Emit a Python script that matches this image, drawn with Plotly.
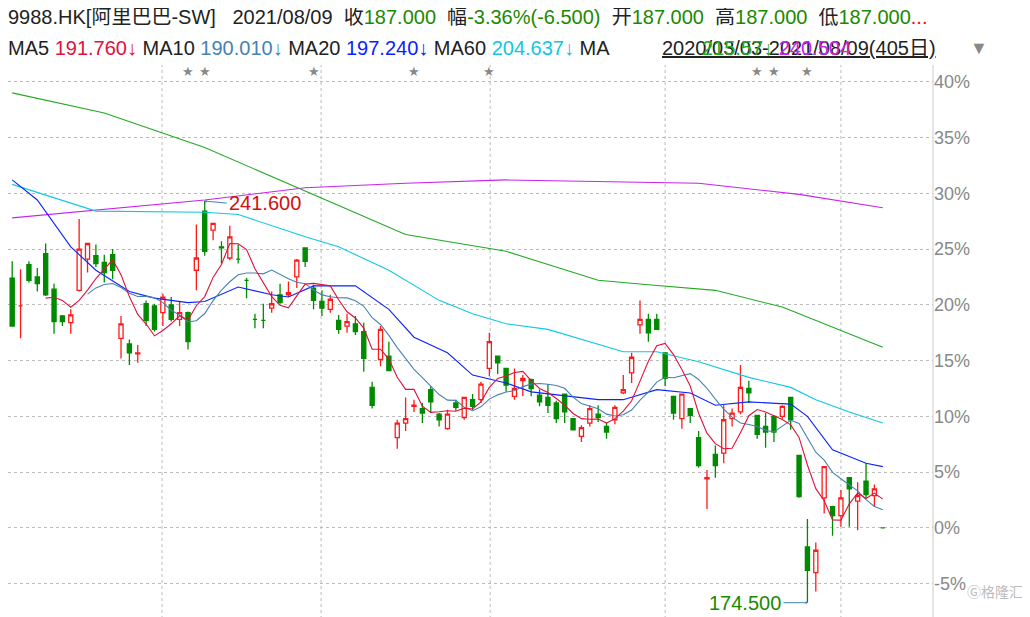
import plotly.graph_objects as go
import pandas as pd

# OHLC in % relative to last close (187.000)
opens = [22.4,19.9,23.6,22.5,24.6,21.4,19.0,18.4,21.3,24.1,24.4,23.8,24.5,17.0,16.5,15.6,20.1,19.9,19.3,20.0,
         18.7,19.3,23.1,28.4,26.7,25.2,24.2,24.1,22.2,18.7,18.6,19.7,20.9,20.9,22.5,25.1,21.5,20.3,19.6,18.6,
         18.1,18.3,17.6,12.6,15.1,15.4,8.1,9.4,10.9,10.7,12.4,10.2,8.9,11.2,9.9,11.5,11.5,14.3,15.4,14.3,
         11.8,13.2,13.3,11.9,11.7,11.2,12.0,9.8,8.2,9.4,10.2,9.1,9.7,12.1,13.9,18.2,18.7,18.7,15.7,11.8,
         9.8,10.7,8.1,4.4,6.6,6.7,9.8,10.4,12.5,10.1,9.1,10.0,10.0,11.7,6.5,-1.7,-4.0,2.7,1.9,1.1,
         4.5,2.4,4.2,2.9,0.0]
closes = [18.1,19.9,22.2,21.9,20.9,18.5,18.5,19.1,25.0,25.5,23.7,22.9,23.1,18.3,15.7,15.7,18.6,17.8,20.7,18.7,
          19.3,16.7,24.2,24.8,27.3,25.1,26.1,24.1,22.2,18.7,18.6,20.1,20.2,21.1,24.0,23.9,20.4,19.7,20.5,17.8,
          18.5,17.6,15.2,11.0,17.8,14.1,9.4,9.8,11.0,10.3,11.3,9.7,10.2,10.8,11.7,10.9,12.9,16.7,14.8,12.8,
          12.5,13.4,12.5,11.3,11.0,9.8,10.4,8.8,9.0,10.7,9.9,8.6,10.8,12.4,15.3,18.7,17.5,17.8,13.4,10.3,
          12.0,10.1,5.6,4.5,5.6,9.7,10.3,12.6,12.1,8.4,8.6,8.6,10.9,9.7,2.8,-3.8,-2.0,5.5,1.1,2.7,
          3.5,2.9,3.0,3.5,0.0]
highs = [23.9,23.2,23.9,23.3,25.5,21.9,19.1,19.6,27.7,25.5,25.4,24.5,25.0,19.0,16.9,16.4,20.4,20.1,21.0,20.7,
         20.3,19.4,27.2,29.3,27.3,25.7,27.1,25.4,22.4,19.2,20.1,21.2,21.9,22.1,24.1,25.1,21.8,21.3,20.9,19.1,
         19.2,19.0,18.4,13.1,18.1,16.7,9.7,11.7,11.5,11.2,12.7,10.3,10.6,11.5,11.7,12.0,13.1,17.5,15.4,14.3,
         14.3,13.7,13.4,12.4,12.9,11.4,12.0,9.8,9.2,11.0,11.0,9.4,11.0,13.7,15.7,20.4,19.2,19.2,15.7,11.8,
         12.0,10.7,8.7,5.2,7.4,11.0,10.7,14.6,13.2,10.1,10.3,10.1,11.0,11.7,6.5,0.8,-1.3,5.5,2.0,3.4,
         4.5,4.1,5.8,3.9,0.0]
lows = [18.1,17.0,22.0,21.2,20.8,17.4,18.1,17.4,21.2,22.9,23.4,22.0,22.3,15.2,14.6,14.8,18.1,17.6,18.1,18.5,
        18.1,16.0,21.3,24.4,25.8,23.7,24.0,23.7,20.6,17.9,17.9,19.3,20.1,20.7,21.5,23.4,19.6,19.0,19.3,17.4,
        17.5,17.3,14.0,10.7,14.5,14.1,7.1,8.7,10.4,9.4,10.3,9.1,8.8,10.5,9.7,10.6,11.2,13.6,13.8,12.2,
        11.5,11.8,11.8,10.9,10.3,9.4,9.4,8.8,7.7,9.1,9.5,8.0,9.3,12.0,13.0,17.4,16.7,17.8,12.7,9.7,
        8.9,9.4,5.4,1.7,4.5,5.8,9.1,10.2,11.2,8.0,7.2,7.7,9.8,8.8,2.7,-6.7,-5.7,1.3,-0.7,0.1,
        0.1,-0.2,2.7,1.9,0.0]

# read-off moving averages (index, %)
ma20_i = [0,3,7,10,14,17,21,23,27,31,33,36,41,45,48,52,55,59,62,70,73,77,81,84,88,93,95,98,102,104]
ma20_v = [31.2,29.4,25.2,23.1,21.2,20.6,20.2,20.3,21.6,20.9,20.7,21.7,21.7,19.6,17.1,15.7,13.7,13.0,12.2,11.5,
          11.5,12.4,12.1,11.0,11.3,11.1,10.0,7.0,5.8,5.5]
ma60_i = [0,10,23,27,35,39,45,51,55,59,64,73,77,82,88,93,96,100,104]
ma60_v = [30.8,28.4,28.3,28.1,26.1,25.2,23.1,20.4,19.2,18.3,17.8,15.8,15.8,14.9,13.5,12.6,11.5,10.4,9.4]
ma120_i = [0,11,23,32,47,59,70,76,84,92,104]
ma120_v = [39.0,37.2,34.1,31.2,26.3,24.8,22.2,21.8,21.3,19.8,16.2]
ma250_i = [0,23,35,47,59,82,94,104]
ma250_v = [27.8,29.4,30.5,30.9,31.2,30.9,29.9,28.7]

month_lines = [17.9, 36.9, 57.1, 78.0, 99.0]
star_idx = [21, 23, 36, 48, 57, 89, 91, 95]
tick_vals = [-5, 0, 5, 10, 15, 20, 25, 30, 35, 40]
tick_text = [f"{v}%" for v in tick_vals]

RED, GREEN = "#ff1a1a", "#008a00"
idx = list(range(len(opens)))
s = pd.Series(closes)
ma5 = s.rolling(5).mean()
ma10 = s.rolling(10).mean()

fig = go.Figure()
fig.add_trace(go.Candlestick(x=idx, open=opens, high=highs, low=lows, close=closes,
    increasing=dict(line=dict(color=RED, width=1.3), fillcolor="white"),
    decreasing=dict(line=dict(color=GREEN, width=1.3), fillcolor=GREEN),
    whiskerwidth=0, showlegend=False, hoverinfo="skip"))
for xs, ys, c in [(ma250_i, ma250_v, "#cc22ee"), (ma120_i, ma120_v, "#22aa22"), (ma60_i, ma60_v, "#10c8e0"),
                  (ma20_i, ma20_v, "#0a22ff"), (idx, ma10, "#4682b4"), (idx, ma5, "#e0103c")]:
    fig.add_trace(go.Scatter(x=xs, y=ys, mode="lines", line=dict(color=c, width=1.1), showlegend=False, hoverinfo="skip"))
fig.add_trace(go.Scatter(x=star_idx, y=[40.8]*len(star_idx), mode="text", text=["★"]*len(star_idx),
    textfont=dict(color="#888", size=13), showlegend=False, hoverinfo="skip"))

for m in month_lines:
    fig.add_shape(type="line", x0=m, x1=m, y0=0, y1=1, yref="paper", line=dict(color="#bbb", width=1, dash="dot"), layer="below")
fig.add_shape(type="line", x0=1, x1=1, xref="paper", y0=0, y1=1, yref="paper", line=dict(color="#ccc", width=1))

hi_i = highs.index(max(highs)); lo_i = lows.index(min(lows))
fig.add_annotation(x=hi_i, y=highs[hi_i], text="241.600", showarrow=True, ax=22, ay=2, xanchor="left",
    font=dict(color="#d01010", size=20, family="Arial"), arrowcolor="#4682b4", arrowwidth=1, arrowhead=1, arrowsize=0.6)
fig.add_annotation(x=lo_i, y=lows[lo_i], text="174.500", showarrow=True, ax=-24, ay=0, xanchor="right",
    font=dict(color="#1a8a00", size=20, family="Arial"), arrowcolor="#4682b4", arrowwidth=1, arrowhead=1, arrowsize=0.6)

PH = 560.0
def py(pix):  # paper y for page pixel row (plot top = 65px on page)
    return 1 + (65 - pix) / PH
PW = 925.0
def px(pix):
    return (pix - 8) / PW

G = "#1a8a00"
FONT = "Arial, Noto Sans CJK SC"
line1 = ("9988.HK[阿里巴巴-SW]&nbsp;&nbsp;&nbsp;2021/08/09&nbsp;&nbsp;收<span style='color:%s'>187.000</span>&nbsp;&nbsp;"
         "幅<span style='color:%s'>-3.36%%(-6.500)</span>&nbsp;&nbsp;开<span style='color:%s'>187.000</span>&nbsp;&nbsp;"
         "高<span style='color:%s'>187.000</span>&nbsp;&nbsp;低<span style='color:%s'>187.000</span><span style='color:red'>...</span>") % (G, G, G, G, G)
fig.add_annotation(x=0.0, y=py(17), xref="paper", yref="paper", yanchor="middle", xanchor="left", showarrow=False,
    text=line1, font=dict(size=20, color="#222", family=FONT), xshift=-2)
line2 = ("MA5 <span style='color:#e0103c'>191.760↓</span> MA10 <span style='color:#4682b4'>190.010↓</span> "
         "MA20 <span style='color:#0a22ff'>197.240↓</span> MA60 <span style='color:#10c8e0'>204.637↓</span> MA")
fig.add_annotation(x=0.0, y=py(48), xref="paper", yref="paper", yanchor="middle", xanchor="left", showarrow=False,
    text=line2, font=dict(size=20, color="#222", family=FONT), xshift=-2)
fig.add_annotation(x=px(660), y=py(48), xref="paper", yref="paper", xanchor="left", yanchor="middle", showarrow=False,
    text="<u>2020/03/03-2021/08/09(405日)</u>", font=dict(size=20, color="#222", family=FONT))
fig.add_annotation(x=px(700), y=py(48), xref="paper", yref="paper", xanchor="left", yanchor="middle", showarrow=False,
    text="<span style='color:#22aa22'>215.57↓</span> <span style='color:#cc22ee'>240.504</span>", font=dict(size=20, family=FONT))
fig.add_annotation(x=px(968), y=py(48), xref="paper", yref="paper", xanchor="left", yanchor="middle", showarrow=False,
    text="▼", font=dict(size=18, color="#888", family=FONT))
fig.add_annotation(x=px(1025), y=py(603), xref="paper", yref="paper", showarrow=False, text="Ⓖ格隆汇",
    font=dict(size=14, color="#bbb", family="Noto Sans CJK SC"), xanchor="right")

fig.update_layout(
    width=1030, height=617, margin=dict(l=0, r=105, t=57, b=0),
    plot_bgcolor="white", paper_bgcolor="white",
    xaxis=dict(range=[-0.5, 110.0], showgrid=False, showticklabels=False, zeroline=False,
               rangeslider=dict(visible=False), fixedrange=True),
    yaxis=dict(range=[-8.7, 41.5], side="right", tickvals=tick_vals, ticktext=tick_text, showgrid=True,
               gridcolor="#bbb", griddash="dot", zeroline=False, tickfont=dict(size=18, color="#888", family="Arial"), ticks=""),
)
fig.write_html("out.html")
